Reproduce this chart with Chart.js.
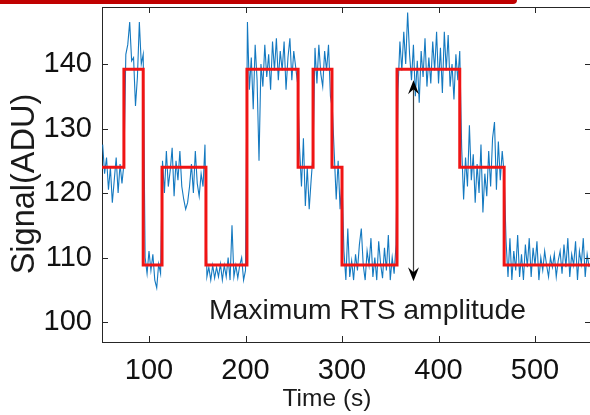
<!DOCTYPE html>
<html><head><meta charset="utf-8">
<script src="https://cdn.jsdelivr.net/npm/chart.js@4.4.1/dist/chart.umd.min.js"></script>
<style>
html,body{margin:0;padding:0;background:#fff;overflow:hidden;}
#wrap{position:relative;width:590px;height:415px;overflow:hidden;background:#fff;}
#c{position:absolute;left:0;top:0;}
#band{position:absolute;left:0;top:0;width:517px;height:4px;background:#c00000;border-bottom-right-radius:5px;z-index:2;}
</style></head><body>
<div id="wrap"><canvas id="c" width="592" height="415"></canvas><div id="band"></div></div>
<script>
// ---- data ----
const signalTime = [
  52,54,56,58,60,62,64,66,68,70,72,74,
  76,78,80,82,84,86,88,90,92,94,
  96,98,100,102,104,106,108,110,112,
  114,116,118,120,122,124,126,128,130,132,134,136,138,140,142,144,146,148,150,152,154,156,158,
  160,162,164,166,168,170,172,174,176,178,180,182,184,186,188,190,192,194,196,198,200,
  202,204,206,208,210,212,214,216,218,220,222,224,226,228,230,232,234,236,238,240,242,244,246,248,250,252,254,
  256,258,260,262,264,266,268,270,
  272,274,276,278,280,282,284,286,288,
  290,292,294,296,298,300,
  302,304,306,308,310,312,314,316,318,320,322,324,326,328,330,332,334,336,338,340,342,344,346,348,350,352,354,356,
  358,360,362,364,366,368,370,372,374,376,378,380,382,384,386,388,390,392,394,396,398,400,402,404,406,408,410,412,414,416,418,420,422,
  424,426,428,430,432,434,436,438,440,442,444,446,448,450,452,454,456,458,460,462,464,466,468,
  470,472,474,476,478,480,482,484,486,488,490,492,494,496,498,500,502,504,506,508,510,512,514,516,518,520,522,524,526,528,530,532,534,536,538,540,542,544,546,548,550,552,554,556
];
const signalValue = [
  127.5,123,125.5,120.5,124,118.5,122,125.5,120,124.5,121.5,124.5,
  141.5,143,146.5,140.5,141,133.5,138,146.5,140,141.5,
  110,107.5,111,108,110.5,106.5,105.3,109,107.5,
  125,120,126.5,121,123.5,127,119.5,125,122,126.5,121,119,117.5,118.5,121,124.5,120,126.5,121.5,119.5,123,121,127.5,
  107,108.5,106.5,108.8,106.8,108.5,107,109,106.5,108.8,107,110,106.5,115,107,108.8,106.8,108.8,110,106.5,108,
  146.5,136,141,133,143,137.5,125,140,136.5,143,138,141.5,136,143.5,139,144,137.5,142,139,143.5,136,141,144,137.5,142,139.5,137,
  127,121,128.5,118,124,117.5,122,126,
  142.5,137,143,138.5,136.5,142,139,143,135,
  133,126,119,125,117.5,122,
  111,106.5,114.5,107,109.5,106.5,110.5,108,112,114.5,108.8,106.5,111,108.8,113,107,110,106.5,112.5,109,106.8,111.5,108,113.5,106.5,110,107.5,112,
  136,143.5,139,145,140,148,141.5,137.5,143,135,140.5,134,142,138,144,136.5,141,137,143.5,139,145,137,142.5,135.5,145,139,144.5,136.5,140,134.5,141.5,137.5,142,
  127,119,125.5,121,130.5,122,126,118.5,124.5,120,127.5,117,123,119.5,126.5,121,128.5,131,120.5,128,122,126.5,123,
  112.5,107,113,106.5,111,108,113.5,107,110.5,106.5,112,108.5,113,107,111.5,108.8,112.5,106.5,110,108,111,108.8,107,110,108.5,110.5,107,109.5,111,107.5,112,108.5,113,107,110.5,108.8,112.5,106.5,111,109,113,107,110.5,108.5
];
// RTS fit: level starting at each switching time
const rtsTime  = [51.3, 74, 94, 113.5, 159, 201.5, 254.5, 270, 289.6, 300, 357, 422, 468, 558];
const rtsLevel = [124.0, 139.2, 108.85, 124.0, 108.85, 139.2, 124.0, 139.2, 124.0, 108.85, 139.2, 124.0, 108.85, 108.85];
// double arrow showing the maximum amplitude
const arrowTime = 373.5, arrowTop = 137.5, arrowBottom = 106.3;
const annotationText = 'Maximum RTS amplitude';
const xTicks = [100, 200, 300, 400, 500];
const yTicks = [100, 110, 120, 130, 140];
const xTitle = 'Time (s)', yTitle = 'Signal(ADU)';

const FONT = '"Liberation Sans", Arial, Helvetica, sans-serif';
const AX = '#262626';

function head(ctx, x, tipY, dir) {
  const L = 14, W = 5.5, back = 9;
  ctx.beginPath();
  ctx.moveTo(x, tipY);
  ctx.lineTo(x - W, tipY - dir * L);
  ctx.lineTo(x, tipY - dir * back);
  ctx.lineTo(x + W, tipY - dir * L);
  ctx.closePath();
  ctx.fill();
}

const decor = {
  id: 'decor',
  afterDatasetsDraw(chart) {
    const {ctx, chartArea: a, scales: {x, y}} = chart;
    ctx.save();
    const ax = Math.round(x.getPixelForValue(arrowTime)) + 0.5;
    const yT = y.getPixelForValue(arrowTop), yB = y.getPixelForValue(arrowBottom);
    ctx.strokeStyle = '#3a3a3a'; ctx.lineWidth = 1.2;
    ctx.beginPath(); ctx.moveTo(ax, yT + 8); ctx.lineTo(ax, yB - 8); ctx.stroke();
    ctx.fillStyle = '#000';
    head(ctx, ax, yT, -1);
    head(ctx, ax, yB, 1);
    ctx.fillStyle = '#1a1a1a';
    ctx.font = '28.3px ' + FONT;
    ctx.textAlign = 'center'; ctx.textBaseline = 'alphabetic';
    ctx.fillText(annotationText, 367.5, 319);
    ctx.restore();
  },
  afterDraw(chart) {
    const {ctx, chartArea: a, scales: {x, y}} = chart;
    ctx.save();
    ctx.strokeStyle = AX; ctx.lineWidth = 1;
    ctx.beginPath();
    ctx.moveTo(a.left, Math.round(a.top) + 0.5); ctx.lineTo(a.right, Math.round(a.top) + 0.5);
    ctx.moveTo(Math.round(a.right) - 0.5, a.top); ctx.lineTo(Math.round(a.right) - 0.5, a.bottom);
    ctx.stroke();
    const T = 6;
    ctx.beginPath();
    xTicks.forEach(v => {
      const px = Math.round(x.getPixelForValue(v)) + 0.5;
      ctx.moveTo(px, a.bottom); ctx.lineTo(px, a.bottom - T);
      ctx.moveTo(px, a.top); ctx.lineTo(px, a.top + T);
    });
    yTicks.forEach(v => {
      const py = Math.round(y.getPixelForValue(v)) + 0.5;
      ctx.moveTo(a.left, py); ctx.lineTo(a.left + T, py);
      ctx.moveTo(a.right, py); ctx.lineTo(a.right - T, py);
    });
    ctx.stroke();
    ctx.fillStyle = '#1a1a1a';
    ctx.textAlign = 'center'; ctx.textBaseline = 'alphabetic';
    ctx.font = '24.5px ' + FONT;
    ctx.fillText(xTitle, 327, 406);
    ctx.translate(34, 184);
    ctx.rotate(-Math.PI / 2);
    ctx.font = '32.5px ' + FONT;
    ctx.fillText(yTitle, 0, 0);
    ctx.restore();
  }
};

const signalPts = signalTime.map((t, i) => ({x: t, y: signalValue[i]}));
const rtsPts = rtsTime.map((t, i) => ({x: t, y: rtsLevel[i]}));

new Chart(document.getElementById('c'), {
  type: 'line',
  data: {
    datasets: [
      {data: rtsPts, stepped: 'before', borderColor: '#f01414', borderWidth: 3, pointRadius: 0, fill: false},
      {data: signalPts, borderColor: '#1479c0', borderWidth: 1.1, pointRadius: 0, tension: 0, fill: false}
    ]
  },
  options: {
    responsive: false,
    animation: false,
    events: [],
    layout: {padding: {top: 7, right: 1, left: 0, bottom: 0}},
    plugins: {legend: {display: false}, tooltip: {enabled: false}},
    scales: {
      x: {
        type: 'linear', min: 51.3, max: 558.0,
        afterFit: s => { s.height = 73; s.paddingLeft = 0; s.paddingRight = 0; },
        afterBuildTicks: s => { s.ticks = xTicks.map(v => ({value: v})); },
        grid: {display: false, drawTicks: false},
        border: {display: true, color: AX, width: 1},
        ticks: {autoSkip: false, padding: 12, color: '#111', font: {family: FONT, size: 29}, maxRotation: 0, minRotation: 0}
      },
      y: {
        type: 'linear', min: 96.9, max: 148.84,
        afterFit: s => { s.width = 102; s.paddingTop = 0; s.paddingBottom = 0; },
        afterBuildTicks: s => { s.ticks = yTicks.map(v => ({value: v})); },
        grid: {display: false, drawTicks: false},
        border: {display: true, color: AX, width: 1},
        ticks: {autoSkip: false, padding: 10, color: '#111', font: {family: FONT, size: 29}}
      }
    }
  },
  plugins: [decor]
});
</script>
</body></html>
